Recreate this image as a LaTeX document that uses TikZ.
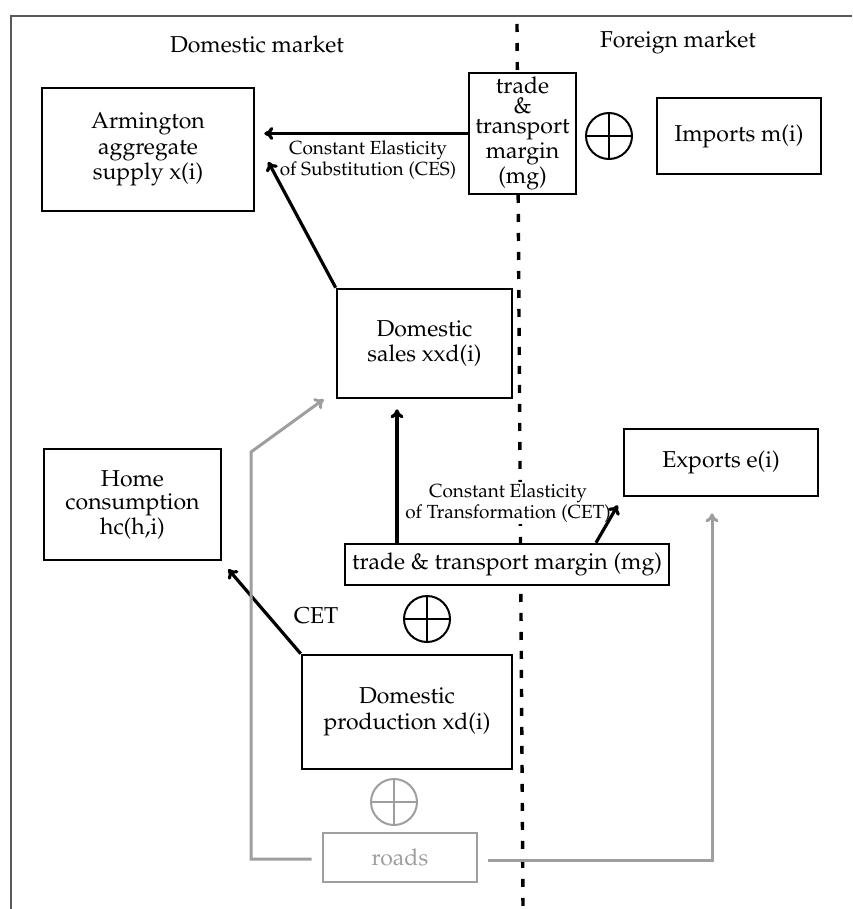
\documentclass[tikz,border=0pt]{standalone}
\usepackage[T1]{fontenc}
\usepackage{palatino}
\usepackage{tikz}
\usetikzlibrary{arrows.meta}
\usetikzlibrary{calc}
\colorlet{road}{black!38}
\colorlet{framegray}{black!65}
\tikzstyle{mybox}=[draw,line width=1.3pt,fill=white,align=center,inner sep=0pt,font=\fontsize{11.5}{12.75}\selectfont]
\tikzstyle{title}=[font=\fontsize{11.5}{12.75}\selectfont]
\tikzstyle{small}=[align=center,fill=white,inner sep=1pt,font=\fontsize{9.5}{10.5}\selectfont]
\tikzstyle{myarr}=[line width=1.6pt,-{To[length=4.5pt,width=6.5pt]}]
\tikzstyle{roadarr}=[road,line width=1.5pt,-{To[length=4.5pt,width=6.5pt]}]
\tikzstyle{divider}=[line width=1.7pt,dash pattern=on 4pt off 5.5pt]
\tikzset{plussign/.style={circle,draw=#1,fill=white,line width=1pt,minimum size=23pt,inner sep=0pt,
	path picture={\draw[#1,line width=1pt] (path picture bounding box.north) -- (path picture bounding box.south)
		(path picture bounding box.west) -- (path picture bounding box.east);}},
	plussign/.default=black}

\begin{document}
\begin{tikzpicture}[x=0.5pt,y=-0.5pt]
	\useasboundingbox (0,0) rectangle (852,909);
	
	% FRAME AND BORDER LINE
	\draw[framegray,line width=0.7pt] (11,909) -- (11,16) -- (852,16);
	\draw[divider] (517,24) -- (523,909);
	\node[title] (domlbl) at (257,44) {Domestic market};
	\node[title] (forlbl) at (678,42) {Foreign market};
	
	% BOXES
	\node[mybox,minimum width=106pt,minimum height=61.5pt] (arm) at (148,149.5) {Armington\\aggregate\\supply x(i)};
	\node[mybox,minimum width=53.5pt,minimum height=60.5pt,font=\fontsize{11.5}{10}\selectfont] (tmtop) at (522.5,133.5) {trade\\\&\\transport\\margin\\(mg)};
	\node[mybox,minimum width=82pt,minimum height=38pt] (imp) at (739,136) {Imports m(i)};
	\node[mybox,minimum width=87.5pt,minimum height=54.5pt] (ds) at (424.5,343.5) {Domestic\\sales xxd(i)};
	\node[mybox,minimum width=88.5pt,minimum height=55.5pt,font=\fontsize{11.5}{11.5}\selectfont] (hc) at (132.5,504.5) {Home\\consumption\\hc(h,i)};
	\node[mybox,minimum width=97pt,minimum height=33.5pt] (exp) at (721,462.5) {Exports e(i)};
	\node[mybox,minimum width=162pt,minimum height=20.5pt] (tmbot) at (507,564.5) {trade \& transport margin (mg)};
	\node[mybox,minimum width=105pt,minimum height=57pt,font=\fontsize{11.5}{13}\selectfont] (dp) at (407,712) {Domestic\\production xd(i)};
	\node[mybox,draw=road,text=road,minimum width=77pt,minimum height=24.5pt] (roads) at (400,857.5) {roads};
	
	% PLUS SIGNS
	\node[plussign] (plusA) at (609,136) {};
	\node[plussign] (plusB) at (427,619) {};
	\node[plussign=road] (plusC) at (394,802) {};
	
	% LABELS
	\node[small] (ces) at (368,160) {Constant Elasticity\\of Substitution (CES)};
	\node[small] (cet) at (508,503) {Constant Elasticity\\of Transformation (CET)};
	\node[title] (cetshort) at (316,616) {CET};
	
	% ARROWS
	\draw[myarr] (tmtop.west) -- ($(arm.east |- tmtop.west)+(9,0)$);
	\draw[myarr] (ds.north west) -- ($(arm.east)+(13,12.5)$);
	\coordinate (dstip) at ($(ds.south)+(-27.5,10)$);
	\draw[myarr] (dstip |- tmbot.north) -- (dstip);
	\draw[myarr] ($(tmbot.north)+(89,0)$) -- ($(exp.south west)+(-5,8)$);
	\draw[myarr] (dp.north west) -- ($(hc.south east)+(6,8)$);
	
	% ROADS
	\draw[roadarr] ($(roads.west)+(-10,1.5)$) -- (251,859) -- (251,452) -- ($(ds.south west)+(-12,0)$);
	\draw[roadarr] ($(roads.east)+(10,2.5)$) -- (712,860) -- ($(exp.south)+(-9,16)$);
	
\end{tikzpicture}
\end{document}
